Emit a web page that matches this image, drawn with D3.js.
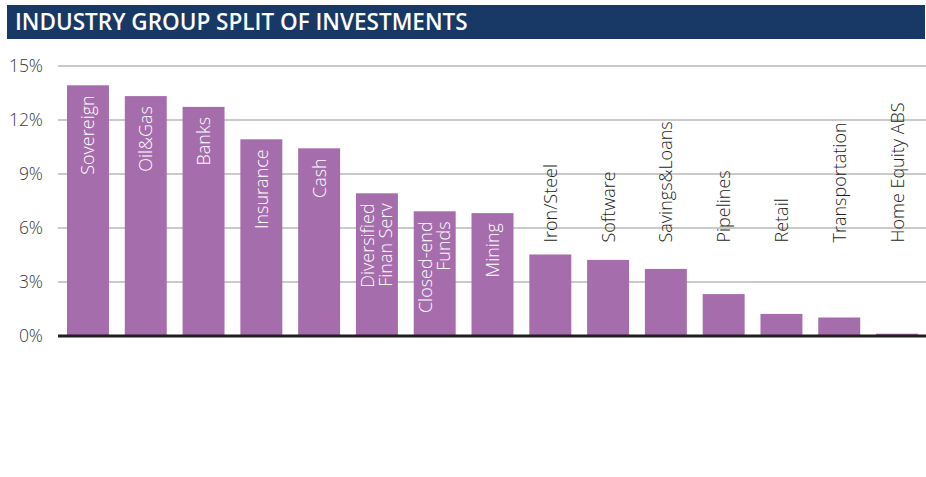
<!DOCTYPE html>
<html>
<head>
<meta charset="utf-8">
<script src="https://cdn.jsdelivr.net/npm/d3@7"></script>
<style>
  body { margin: 0; background: #fff; }
  svg { display: block; font-family: "Open Sans", sans-serif; }
</style>
</head>
<body>
<div id="chart"></div>
<script>
// chart values (percent)
const categories = ["Sovereign", "Oil&Gas", "Banks", "Insurance", "Cash",
  "Diversified|Finan Serv", "Closed-end|Funds", "Mining", "Iron/Steel", "Software",
  "Savings&Loans", "Pipelines", "Retail", "Transportation", "Home Equity ABS"];
const values = [13.9, 13.3, 12.7, 10.9, 10.4, 7.9, 6.9, 6.8, 4.5, 4.2, 3.7, 2.3, 1.2, 1.0, 0.1];
const yTicks = [0, 3, 6, 9, 12, 15];
const title = "INDUSTRY GROUP SPLIT OF INVESTMENTS";

const width = 926, height = 477;
const barColor = "#a66dac";
const insideMin = 5; // labels go inside the bar above this value

const svg = d3.select("#chart").append("svg")
  .attr("width", width)
  .attr("height", height);

// title band
svg.append("rect")
  .attr("x", 7).attr("y", 5)
  .attr("width", 918).attr("height", 34)
  .attr("fill", "#183866");
svg.append("text")
  .attr("x", 15).attr("y", 29.5)
  .attr("fill", "#fff")
  .attr("font-size", 22.5)
  .attr("font-weight", 600)
  .text(title);

const y = d3.scaleLinear().domain([0, 15]).range([335.5, 65.5]);
const x = d3.scaleBand()
  .domain(categories)
  .range([67, 918])
  .paddingInner(0.274)
  .paddingOuter(0);

// gridlines + tick labels
const yAxis = svg.append("g")
  .attr("transform", "translate(58,0)")
  .call(d3.axisLeft(y).tickValues(yTicks).tickSize(-868).tickFormat(d => d + "%"));
yAxis.select(".domain").remove();
yAxis.selectAll(".tick line")
  .attr("stroke", "#b8b8b8")
  .attr("stroke-width", 1.3);
yAxis.selectAll(".tick text")
  .attr("x", -15)
  .attr("font-size", 17.5)
  .attr("font-weight", 300)
  .attr("font-family", "Open Sans, sans-serif")
  .attr("fill", "#3a3a3a");

// bars
svg.append("g").selectAll("rect")
  .data(categories)
  .join("rect")
  .attr("x", d => x(d))
  .attr("y", (d, i) => y(values[i]))
  .attr("width", x.bandwidth())
  .attr("height", (d, i) => y(0) - y(values[i]))
  .attr("fill", barColor);

// baseline
svg.append("line")
  .attr("x1", 58).attr("x2", width)
  .attr("y1", y(0) + 0.5).attr("y2", y(0) + 0.5)
  .attr("stroke", "#231f20")
  .attr("stroke-width", 3);

// category labels, rotated
const outsideTop = d3.max(values.filter(v => v <= insideMin));
const labels = svg.append("g").selectAll("text")
  .data(categories)
  .join("text")
  .attr("font-size", 18)
  .attr("font-weight", 300)
  .attr("fill", (d, i) => values[i] > insideMin ? "#fff" : "#231f20")
  .attr("text-anchor", (d, i) => values[i] > insideMin ? "end" : "start")
  .attr("transform", (d, i) => {
    const cx = x(d) + x.bandwidth() / 2;
    const yy = values[i] > insideMin ? y(values[i]) + 10 : y(outsideTop) - 12;
    return `translate(${cx},${yy}) rotate(-90)`;
  });

labels.each(function(d) {
  const lines = d.split("|");
  const t = d3.select(this);
  const lh = 18;
  lines.forEach((ln, k) => {
    t.append("tspan")
      .attr("x", 0)
      .attr("y", (k - (lines.length - 1) / 2) * lh + 6.5)
      .text(ln);
  });
});
</script>
</body>
</html>
